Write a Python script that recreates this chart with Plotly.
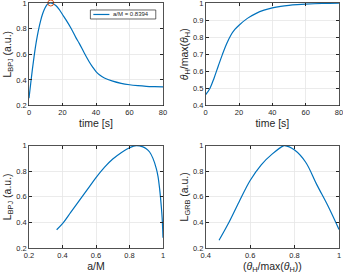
import plotly.graph_objects as go

# ---- data ----
time_s = [0, 1, 2, 3, 4, 5, 6, 7, 8, 9, 10, 11, 12, 13, 14, 16, 18, 20, 22, 25, 28, 30,
          33, 36, 38, 40, 42, 45, 50, 55, 60, 65, 70, 75, 80]
L_bpj_t = [0.257, 0.37, 0.48, 0.58, 0.67, 0.745, 0.81, 0.865, 0.91, 0.945, 0.972, 0.99, 0.998,
           1.0, 0.997, 0.98, 0.95, 0.91, 0.87, 0.805, 0.73, 0.685, 0.61, 0.54, 0.50, 0.465,
           0.44, 0.415, 0.39, 0.373, 0.362, 0.355, 0.35, 0.347, 0.345]
peak_time = [13]
peak_L = [1.0]
legend_label = "a/M = 0.8394"

theta_t = [0, 2.5, 5, 7.5, 10, 12.5, 15, 17.5, 20, 25, 30, 35, 40, 45, 50, 55, 60, 70, 80]
theta_ratio = [0.464, 0.50, 0.56, 0.63, 0.698, 0.76, 0.81, 0.845, 0.87, 0.91, 0.938, 0.958,
               0.971, 0.98, 0.986, 0.99, 0.993, 0.997, 0.999]

aM = [0.365, 0.4, 0.45, 0.5, 0.55, 0.6, 0.65, 0.7, 0.75, 0.8, 0.84, 0.88, 0.9, 0.92, 0.94,
      0.96, 0.97, 0.98, 0.99, 0.995, 1.0]
L_bpj_aM = [0.343, 0.39, 0.48, 0.57, 0.66, 0.75, 0.83, 0.895, 0.945, 0.983, 1.0, 0.99, 0.975,
            0.95, 0.9, 0.82, 0.76, 0.66, 0.52, 0.43, 0.28]

theta_x = [0.46, 0.5, 0.55, 0.6, 0.65, 0.7, 0.75, 0.755, 0.8, 0.85, 0.9, 0.95, 1.0]
L_grb = [0.26, 0.385, 0.56, 0.727, 0.85, 0.935, 0.998, 1.0, 0.965, 0.87, 0.695, 0.53, 0.345]

BLUE = "#0072BD"
ORANGE = "#D95319"
DARK = "#262626"
FONT = "Liberation Sans, Arial, sans-serif"

fig = go.Figure()
fig.add_trace(go.Scatter(x=time_s, y=L_bpj_t, mode="lines", line=dict(color=BLUE, width=1.2, shape="spline"),
                         name=legend_label, xaxis="x", yaxis="y", showlegend=False))
fig.add_trace(go.Scatter(x=peak_time, y=peak_L, mode="markers",
                         marker=dict(symbol="circle-open", color=ORANGE, size=6, line=dict(width=1)),
                         xaxis="x", yaxis="y", showlegend=False, cliponaxis=False))
fig.add_trace(go.Scatter(x=theta_t, y=theta_ratio, mode="lines", line=dict(color=BLUE, width=1.2, shape="spline"),
                         xaxis="x2", yaxis="y2", showlegend=False))
fig.add_trace(go.Scatter(x=aM, y=L_bpj_aM, mode="lines", line=dict(color=BLUE, width=1.2, shape="spline"),
                         xaxis="x3", yaxis="y3", showlegend=False))
fig.add_trace(go.Scatter(x=theta_x, y=L_grb, mode="lines", line=dict(color=BLUE, width=1.2, shape="spline"),
                         xaxis="x4", yaxis="y4", showlegend=False))

c1 = [0, 0.4323]
c2 = [0.570, 1]
r1 = [0.5816, 1]
r2 = [0, 0.418]

def ax(domain, rng, tickvals, anchor, title, standoff):
    return dict(domain=domain, range=rng, tickvals=tickvals,
                ticktext=[("%g" % v) for v in tickvals],
                anchor=anchor, showline=True, mirror="ticks", linecolor=DARK, linewidth=0.8,
                ticks="inside", ticklen=3, tickcolor=DARK, showgrid=True, gridcolor="#e6e6e6",
                gridwidth=0.8, zeroline=False, automargin=False, ticklabeloverflow="allow",
                tickfont=dict(size=7.5, color=DARK, family=FONT),
                title=dict(text=title, font=dict(size=10.5, color=DARK, family=FONT), standoff=standoff))

yt = [0.2, 0.4, 0.6, 0.8, 1]
fig.update_layout(
    width=343, height=274, margin=dict(l=29, r=4, t=3, b=26),
    paper_bgcolor="white", plot_bgcolor="white", font=dict(family=FONT),
    showlegend=False, hovermode=False,
    xaxis=ax(c1, [0, 80], [0, 20, 40, 60, 80], "y", "time [s]", 2),
    yaxis=ax(r1, [0.2, 1], yt, "x", "L<sub>BPJ</sub> (a.u.)", 2),
    xaxis2=ax(c2, [0, 80], [0, 20, 40, 60, 80], "y2", "time [s]", 2),
    yaxis2=ax(r1, [0.4, 1], [0.4, 0.5, 0.6, 0.7, 0.8, 0.9, 1], "x2",
              "<i>θ</i><sub>H</sub>/max(<i>θ</i><sub>H</sub>)", 2),
    xaxis3=ax(c1, [0.2, 1], yt, "y3", "a/M", 2),
    yaxis3=ax(r2, [0.2, 1], yt, "x3", "L<sub>BPJ</sub> (a.u.)", 2),
    xaxis4=ax(c2, [0.4, 1], [0.4, 0.6, 0.8, 1], "y4",
              "(<i>θ</i><sub>H</sub>/max(<i>θ</i><sub>H</sub>))", 2),
    yaxis4=ax(r2, [0.2, 1], yt, "x4", "L<sub>GRB</sub> (a.u.)", 2),
)

# legend box drawn in the first panel (MATLAB-style compact legend)
fig.add_shape(type="rect", xref="x domain", yref="y domain", x0=0.458, x1=0.946, y0=0.844, y1=0.932,
              line=dict(color=DARK, width=0.7), fillcolor="white", layer="above")
fig.add_shape(type="line", xref="x domain", yref="y domain", x0=0.48, x1=0.60, y0=0.888, y1=0.888,
              line=dict(color=BLUE, width=1.2), layer="above")
fig.add_annotation(xref="x domain", yref="y domain", x=0.615, y=0.888, text=legend_label,
                   showarrow=False, xanchor="left", yanchor="middle",
                   font=dict(size=6, color=DARK, family=FONT))

fig.write_html("out.html", config={"displayModeBar": False, "staticPlot": True},
               post_script="document.body.style.margin='0';document.body.style.overflow='hidden';")
